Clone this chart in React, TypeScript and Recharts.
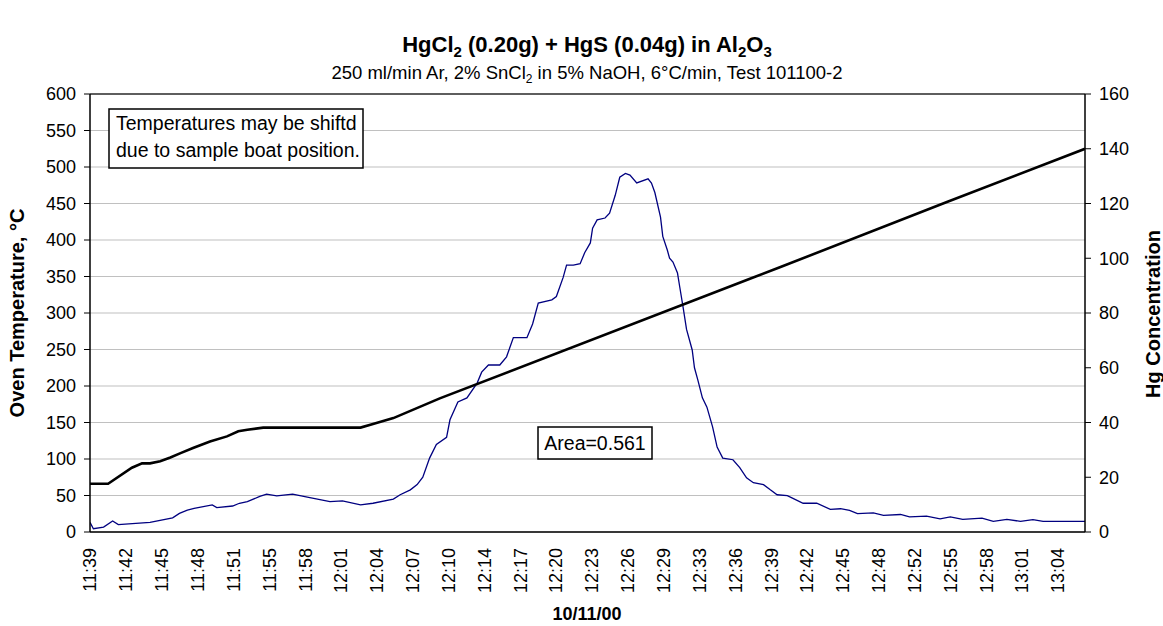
import { LineChart, Line, XAxis, YAxis, CartesianGrid, ReferenceLine } from "recharts"

// time axis labels (one every 3 min 10 s, starting 11:39)
const tickLabels = [
  "11:39", "11:42", "11:45", "11:48", "11:51", "11:55", "11:58", "12:01", "12:04", "12:07",
  "12:10", "12:14", "12:17", "12:20", "12:23", "12:26", "12:29", "12:33", "12:36", "12:39",
  "12:42", "12:45", "12:48", "12:52", "12:55", "12:58", "13:01", "13:04"
]

// oven temperature, minutes after 11:39 -> °C
const tempMinutes = [0, 1.6, 3.7, 4.6, 5.3, 6.2, 7.1, 8.0, 9.1, 10.6, 12.1, 13.1, 13.9, 15.3, 23.9, 25.0, 26.8, 30.9, 58.3, 61.0, 75.7, 87.9]
const tempValues = [66, 66, 88, 94, 94, 97, 102, 108, 115, 124, 131, 138, 140, 143, 143, 148, 156, 183, 347, 363, 452, 525]

// Hg concentration, minutes after 11:39
const hgMinutes = [
  0, 0.3, 1.2, 2.0, 2.5, 5.3, 7.3, 7.9, 8.6, 9.2, 10.8, 11.2, 12.6, 13.2, 13.9, 15.0, 15.6, 16.5, 17.9, 19.2,
  21.2, 22.3, 23.9, 25.0, 26.8, 27.4, 28.3, 28.9, 29.4, 30.0, 30.6, 31.5, 31.8, 32.5, 33.3, 34.2, 34.6, 35.2, 36.2, 36.8,
  37.4, 38.6, 39.1, 39.6, 40.8, 41.2, 41.8, 42.1, 42.7, 43.3, 43.7, 44.2, 44.4, 44.8, 45.5, 45.9, 46.4, 46.8, 47.3, 47.7,
  48.3, 49.3, 49.6, 49.9, 50.4, 50.6, 51.0, 51.2, 51.5, 51.9, 52.1, 52.4, 52.7, 53.2, 53.4, 53.7, 54.1, 54.5, 55.0, 55.4,
  55.9, 56.8, 57.4, 58.0, 58.6, 59.5, 60.1, 60.7, 61.6, 62.1, 63.0, 64.2, 65.4, 66.3, 67.1, 67.8, 69.2, 70.1, 71.6, 72.4,
  73.9, 75.1, 76.0, 77.1, 78.8, 79.8, 81.0, 82.2, 83.3, 84.2, 87.9
]
const hgValues = [
  3.5, 1.2, 1.8, 4.0, 2.7, 3.5, 5.2, 6.8, 8.0, 8.6, 9.9, 8.9, 9.5, 10.5, 11.1, 13.0, 13.8, 13.2, 13.8, 12.7,
  11.1, 11.4, 9.9, 10.5, 12.0, 13.6, 15.4, 17.3, 20.0, 27, 32, 34.6, 41, 47.5, 49, 54.4, 58.4, 61, 61, 64,
  71, 71, 76, 83.6, 84.8, 86, 93, 97.5, 97.5, 98, 102, 105.6, 111, 114, 114.7, 116.5, 123, 129.6, 131, 130.4,
  127.5, 129, 127.5, 124, 115, 108, 103, 100, 98.6, 94.6, 89.5, 82, 74, 66.5, 60, 55.5, 49, 45.6, 38.4, 31,
  27, 26.4, 23.5, 19.8, 18, 17.3, 15.4, 13.6, 13.3, 12.3, 10.5, 10.5, 8.3, 8.5, 7.9, 6.7, 7.0, 6.1, 6.4, 5.5,
  5.8, 4.8, 5.5, 4.6, 5.1, 3.9, 4.6, 3.9, 4.5, 3.9, 3.9
]

const leftTicks = [0, 50, 100, 150, 200, 250, 300, 350, 400, 450, 500, 550, 600]
const rightTicks = [0, 20, 40, 60, 80, 100, 120, 140, 160]

const tempData = tempMinutes.map((m, i) => ({ m, temp: tempValues[i] }))
const hgData = hgMinutes.map((m, i) => ({ m, hg: hgValues[i] }))
const xTicks = tickLabels.map((_, i) => (i * 19) / 6)

const FONT = "'Liberation Sans', Arial, sans-serif"

function TimeTick(props: any) {
  const { x, index } = props
  return (
    <g transform={`translate(${x},548) rotate(-90)`}>
      <text x={0} y={0} dy="0.36em" textAnchor="end" fontSize={18} fontFamily={FONT} fill="#000">
        {tickLabels[index]}
      </text>
    </g>
  )
}

export default function App() {
  return (
    <div style={{ position: "absolute", left: 0, top: 0, width: 1163, height: 626, background: "#fff" }}>
      <LineChart
        width={1163}
        height={626}
        margin={{ top: 94, right: 18, bottom: 34, left: 30 }}
        style={{ fontFamily: FONT }}
      >
        <CartesianGrid yAxisId="left" vertical={false} stroke="#c0c0c0" strokeWidth={1.2} />
        <XAxis
          dataKey="m"
          type="number"
          domain={[0, 87.9]}
          ticks={xTicks}
          interval={0}
          height={60}
          tickLine={false}
          axisLine={{ stroke: "#000", strokeWidth: 1.5 }}
          tick={<TimeTick />}
          allowDataOverflow
        />
        <YAxis
          yAxisId="left"
          domain={[0, 600]}
          ticks={leftTicks}
          width={60}
          tickSize={6}
          tickMargin={8}
          axisLine={{ stroke: "#000", strokeWidth: 1.5 }}
          tickLine={{ stroke: "#000" }}
          tick={{ fontSize: 18, fill: "#000", fontFamily: FONT }}
        />
        <YAxis
          yAxisId="right"
          orientation="right"
          domain={[0, 160]}
          ticks={rightTicks}
          width={60}
          tickSize={6}
          tickMargin={8}
          axisLine={{ stroke: "#000", strokeWidth: 1.5 }}
          tickLine={{ stroke: "#000" }}
          tick={{ fontSize: 18, fill: "#000", fontFamily: FONT }}
        />
        <ReferenceLine yAxisId="left" y={600} stroke="#333" strokeWidth={1.5} />
        <Line
          yAxisId="right"
          data={hgData}
          dataKey="hg"
          type="linear"
          stroke="#000080"
          strokeWidth={1.3}
          dot={false}
          isAnimationActive={false}
        />
        <Line
          yAxisId="left"
          data={tempData}
          dataKey="temp"
          type="linear"
          stroke="#000"
          strokeWidth={2.6}
          dot={false}
          isAnimationActive={false}
        />
      </LineChart>
      <svg
        width={1163}
        height={626}
        style={{ position: "absolute", left: 0, top: 0, pointerEvents: "none" }}
        fontFamily={FONT}
      >
        <text x={587} y={52} textAnchor="middle" fontSize={22} fontWeight="bold">
          HgCl<tspan fontSize={15} dy={5}>2</tspan>
          <tspan dy={-5}> (0.20g) + HgS (0.04g) in Al</tspan>
          <tspan fontSize={15} dy={5}>2</tspan>
          <tspan dy={-5}>O</tspan>
          <tspan fontSize={15} dy={5}>3</tspan>
        </text>
        <text x={587} y={79} textAnchor="middle" fontSize={18.5}>
          250 ml/min Ar, 2% SnCl<tspan fontSize={12} dy={4}>2</tspan>
          <tspan dy={-4}> in 5% NaOH, 6°C/min, Test 101100-2</tspan>
        </text>
        <text transform="translate(24,313) rotate(-90)" textAnchor="middle" fontSize={20} fontWeight="bold">
          Oven Temperature, °C
        </text>
        <text transform="translate(1160,314) rotate(-90)" textAnchor="middle" fontSize={20} fontWeight="bold">
          Hg Concentration
        </text>
        <text x={587} y={620} textAnchor="middle" fontSize={18} fontWeight="bold">
          10/11/00
        </text>
        <rect x={109} y={109} width={254} height={59} fill="#fff" stroke="#000" strokeWidth={1.5} />
        <text x={116} y={130} fontSize={19.5}>Temperatures may be shiftd</text>
        <text x={116} y={157} fontSize={19.5}>due to sample boat position.</text>
        <rect x={538} y={427} width={114} height={32} fill="#fff" stroke="#000" strokeWidth={1.5} />
        <text x={595} y={450} textAnchor="middle" fontSize={19.5}>Area=0.561</text>
      </svg>
    </div>
  )
}
